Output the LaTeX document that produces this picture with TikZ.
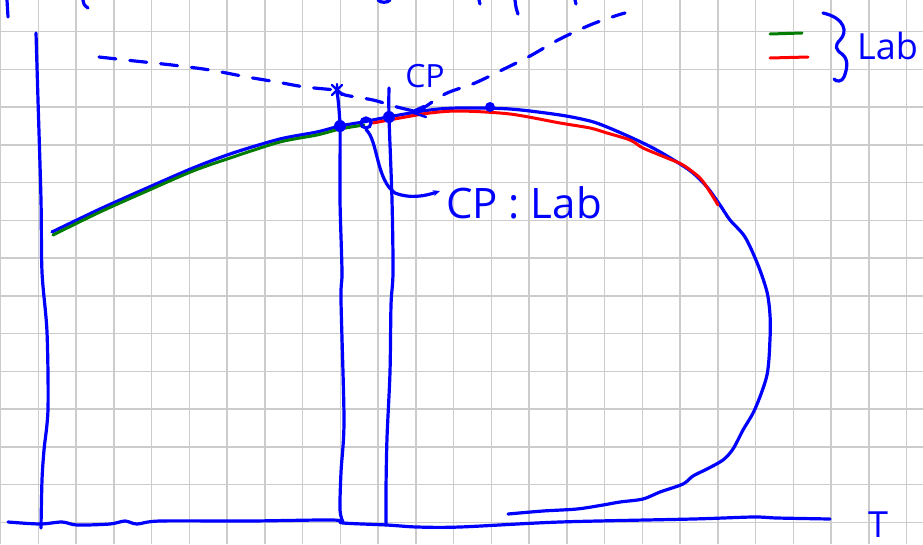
\documentclass[tikz,border=0pt]{standalone}
\usepackage{fontspec}
\setmainfont{Open Sans}
\usetikzlibrary{arrows.meta}
\definecolor{pen}{RGB}{0,0,255}
\definecolor{pgreen}{RGB}{0,125,0}
\definecolor{pred}{RGB}{255,0,0}
\definecolor{gridc}{RGB}{204,204,204}
\begin{document}
\begin{tikzpicture}[x=1pt,y=-1pt,
  ink/.style={draw=pen,line width=3.2pt,line cap=round,line join=round},
  dashink/.style={ink,dash pattern=on 17pt off 14pt},
  greenink/.style={draw=pgreen,line width=3pt,line cap=round,line join=round},
  redink/.style={draw=pred,line width=3pt,line cap=round,line join=round},
  dotnode/.style={circle,fill=pen,inner sep=0pt,minimum size=12pt},
  ringnode/.style={circle,draw=pen,line width=3.2pt,inner sep=0pt,minimum size=10pt},
  lbl/.style={text=pen,inner sep=0pt}]
\useasboundingbox (0,0) rectangle (923,544);
\fill[white] (0,0) rectangle (923,544);
% grid
\foreach \k in {0,...,24} \draw[gridc,line width=1.5pt] ({0.55+37.75*\k},0) -- ({0.55+37.75*\k},544);
\foreach \k in {0,...,13} \draw[gridc,line width=1.5pt] (0,{31.7+37.75*\k}) -- (923,{31.7+37.75*\k});

% cut-off strokes at the top edge
\draw[ink] (7,0) -- (8,17);
\draw[ink] (83,0) .. controls (84,5) .. (88,8);
\draw[ink] (479,0) -- (480,4);
\draw[ink] (515,0) .. controls (516,8) .. (518,14);
\draw[ink] (575,0) -- (576,4);
\draw[ink] (378,0) .. controls (380,3) and (388,3) .. (390,0);

% axes
\coordinate (ytop) at (36,33);
\coordinate (ybot) at (41,528);
\draw[ink] plot[smooth] coordinates {(ytop) (38,100) (41,200) (42,272) (47,332) (48,409) (44,450) (42,480) (ybot)};
\coordinate (tleft) at (8,522);
\coordinate (tright) at (830,519);
\draw[ink] plot[smooth] coordinates {(tleft) (40,524) (62,522) (77,525) (110,524) (125,521) (137,524) (160,521) (250,521) (333,520) (343,523) (387,525) (417,527) (460,527) (560,522) (693,519) (753,517) (777,518) (tright)};

% main curve (blue)
\draw[ink] plot[smooth] coordinates {(52,232) (100,209) (147,188) (193,168) (233,153) (280,139) (317,132) (340,126) (363,122) (388,117) (430,110) (460,108) (510,109) (560,115) (590,121) (607,127) (630,137) (653,148) (677,162) (693,173) (707,187) (720,205) (730,220) (745,237) (758,265) (767,292) (770,315) (770,339) (767,375) (755,409) (743,430) (733,449) (723,460) (707,469) (693,476) (683,484) (660,492) (643,499) (620,502) (603,505) (577,509) (543,511) (508,514)};
% green and red traces
\draw[greenink] plot[smooth] coordinates {(53,235) (100,212) (147,191) (193,171) (233,157) (280,142) (317,135) (340,129) (364,125)};
\draw[redink] plot[smooth] coordinates {(373,123) (400,118) (430,113) (460,111) (510,114) (560,123) (590,128) (607,133) (630,140) (643,148) (667,158) (683,165) (700,178) (710,192) (718,205)};

% cross mark and dashed lines
\node[inner sep=0pt,minimum size=10pt] (cross) at (337,90) {};
\draw[ink,line width=2.4pt] (332,85) -- (342,95) (342,85) -- (332,95) (337,84) -- (337,96);
\coordinate (dstart) at (99,57);
\coordinate (dmid) at (418,112);
\coordinate (dend) at (625,13);
\draw[dashink] plot[smooth] coordinates {(dstart) (135,61) (172,65) (210,70) (247,77) (277,82) (305,87) (cross.center)};
\draw[dashink] plot[smooth] coordinates {(cross.center) (345,95) (373,100) (397,107) (dmid)};
\draw[ink,line width=2.4pt] (424,106) -- (411,112) -- (426,117);
\draw[dashink] plot[smooth] coordinates {(dmid) (445,94) (475,83) (502,70) (530,56) (558,40) (590,25) (615,16) (dend)};

% dots
\node[dotnode] (d1) at (340,126) {};
\node[ringnode] (d2) at (366,123) {};
\node[dotnode] (d3) at (389,117) {};
\node[dotnode,minimum size=10pt] (d4) at (490,107) {};

% vertical lines
\coordinate (v1b) at (343,522);
\draw[ink] plot[smooth] coordinates {(cross.center) (340,126) (340,200) (342,272) (341,300) (344,420) (341,472) (340,510) (v1b)};
\coordinate (v2t) at (389,88);
\coordinate (v2b) at (386,525);
\draw[ink] plot[smooth] coordinates {(v2t) (389,117) (392,200) (393,272) (391,305) (390,372) (387,438) (386,489) (v2b)};

% labels
\node[lbl,font=\fontsize{32}{34}\selectfont] (cp) at (425,76) {CP};
\node[lbl,font=\fontsize{42}{46}\selectfont,anchor=west] (cplab) at (446,203) {CP : Lab};
\coordinate (arrend) at (440,191);
\draw[ink,-{Stealth[length=7pt,width=6pt]}] (d2.south) .. controls (378,140) and (376,180) .. (395,193) .. controls (410,199) and (425,196) .. (arrend);

% legend
\draw[greenink] (770,34) -- (802,33);
\draw[redink] (770,58) -- (808,57);
\draw[ink] (823,13) .. controls (845,18) and (848,32) .. (840,40) .. controls (834,46) and (836,50) .. (842,54) .. controls (850,60) and (846,72) .. (844,77) .. controls (842,82) and (836,82) .. (834,79);
\node[lbl,font=\fontsize{36}{40}\selectfont,anchor=west] (lab) at (857,46) {Lab};

% T label
\node[lbl,font=\fontsize{36}{38}\selectfont,anchor=base] (tlab) at (878,537) {T};
\end{tikzpicture}
\end{document}
